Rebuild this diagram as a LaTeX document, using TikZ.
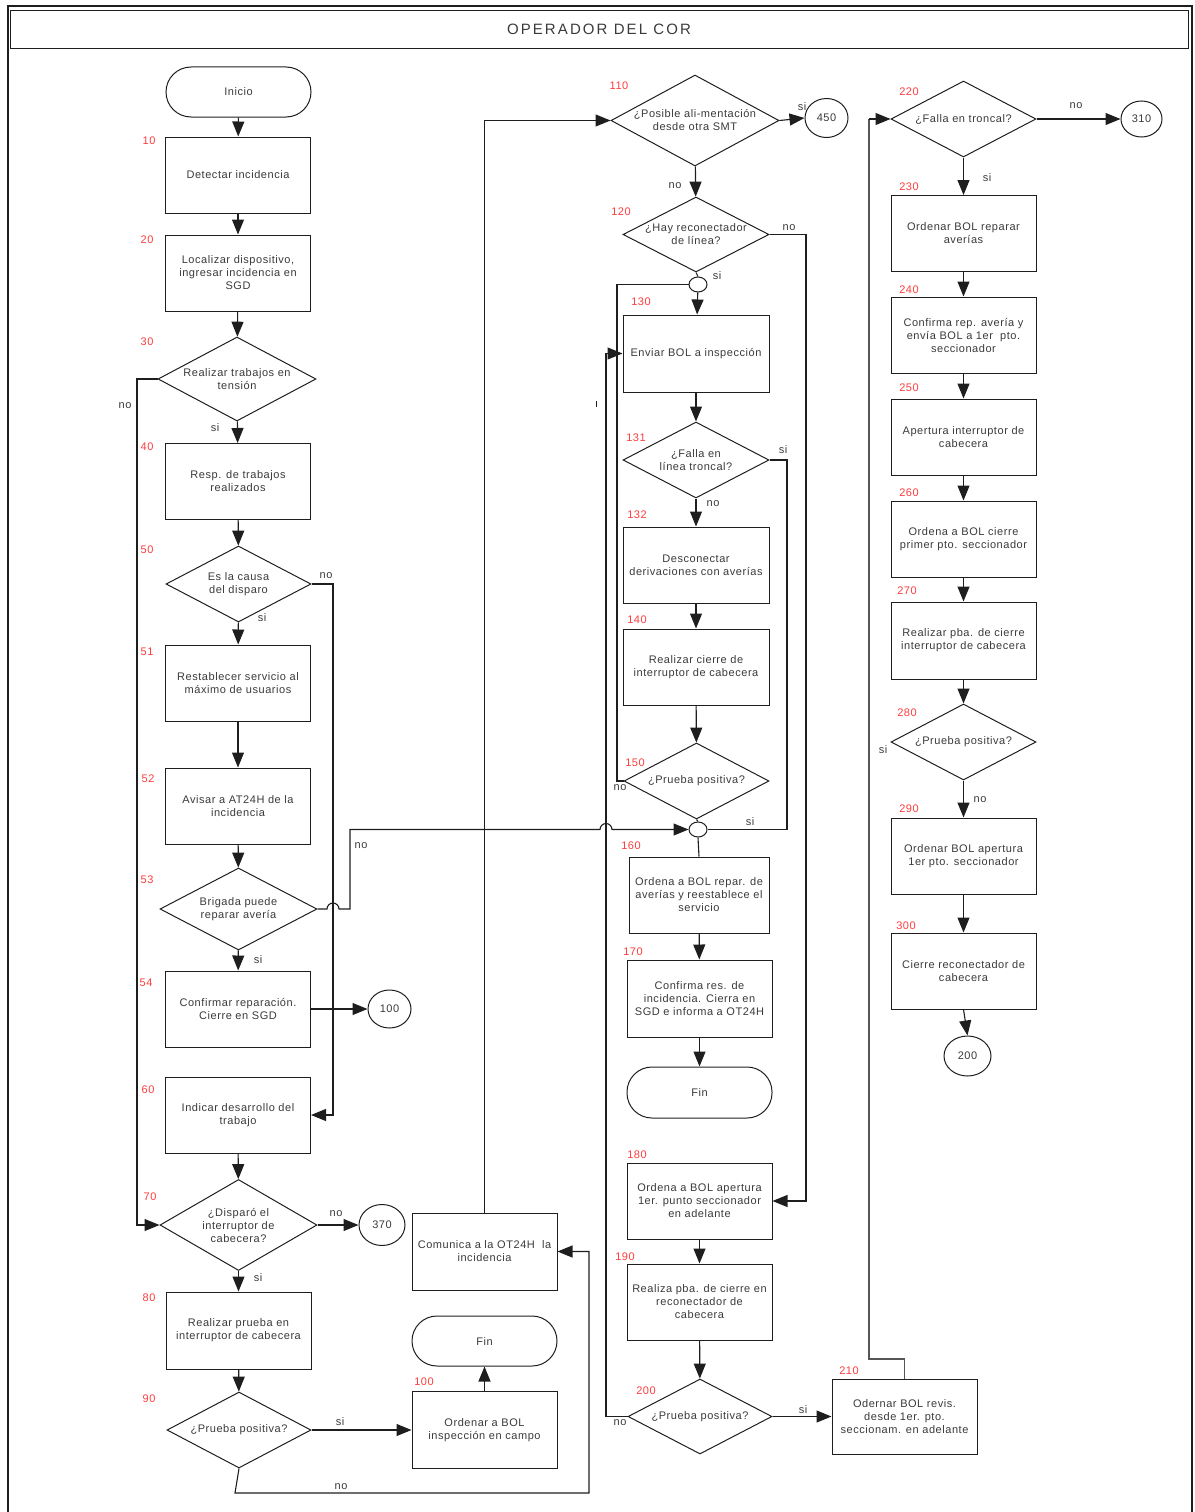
\documentclass[tikz,border=0pt]{standalone}
\usepackage{fontspec}
\setmainfont{Liberation Sans}[LetterSpace=5]
\newfontfamily\titlefont{Liberation Sans}[LetterSpace=14]
\usetikzlibrary{arrows.meta,shapes.geometric}
\definecolor{ln}{HTML}{1E1E1E}
\definecolor{tx}{HTML}{3A3A3A}
\definecolor{nm}{HTML}{FF3C3C}
\begin{document}
\begin{tikzpicture}[x=1pt,y=-1pt,
  font=\fontsize{11}{13}\selectfont,
  every node/.style={text=tx},
  box/.style={draw=ln, line width=1pt, rectangle, minimum width=145pt, minimum height=76pt, align=center, inner sep=0pt},
  term/.style={draw=ln, line width=1pt, rectangle, rounded corners=25pt, minimum width=145pt, minimum height=50pt, align=center},
  dia/.style={draw=ln, line width=1pt, diamond, inner sep=0pt},
  circ/.style={draw=ln, line width=1pt, ellipse, inner sep=0pt},
  txt/.style={align=center, inner sep=0pt},
  num/.style={text=nm, inner sep=0pt},
  lab/.style={inner sep=0pt},
  conn/.style={draw=ln, line width=1.1pt},
  arr/.style={conn, -{Triangle[length=15pt,width=12pt]}},
]
\useasboundingbox (0,0) rectangle (1194,1512);
% frame and title
\draw[ln, line width=2pt] (8,1520) -- (8,6) -- (1192,6) -- (1192,1520);
\node[draw=ln, line width=0.8pt, minimum width=1178pt, minimum height=38pt, inner sep=0pt] (title) at (599,29) {\titlefont\fontsize{15}{17}\selectfont OPERADOR DEL COR};

% ---- left column
\node[term] (inicio) at (238.5,92) {Inicio};
\node[box] (b10) at (238,175) {Detectar incidencia};
\node[box] (b20) at (238,273) {Localizar dispositivo,\\ingresar incidencia en\\SGD};
\node[dia, minimum width=158pt, minimum height=84pt] (d30) at (237,379) {};
\node[txt] (t30) at (d30) {Realizar trabajos en\\tensión};
\node[box] (b40) at (238,481.5) {Resp. de trabajos\\realizados};
\node[dia, minimum width=145pt, minimum height=76pt] (d50) at (238.5,584) {};
\node[txt] (t50) at (d50) {Es la causa\\del disparo};
\node[box] (b51) at (238,683) {Restablecer servicio al\\máximo de usuarios};
\node[box] (b52) at (238,806) {Avisar a AT24H de la\\incidencia};
\node[dia, minimum width=157pt, minimum height=82pt] (d53) at (238.5,909) {};
\node[txt] (t53) at (d53) {Brigada puede\\reparar avería};
\node[box] (b54) at (238,1009) {Confirmar reparación.\\Cierre en SGD};
\node[circ, minimum width=43pt, minimum height=38pt] (c100) at (389.5,1009) {100};
\node[box] (b60) at (238,1115) {Indicar desarrollo del\\trabajo};
\node[dia, minimum width=157pt, minimum height=91pt] (d70) at (238.5,1225) {};
\node[txt] (t70) at (d70) {¿Disparó el\\interruptor de\\cabecera?};
\node[circ, minimum width=46pt, minimum height=41pt] (c370) at (382,1225) {370};
\node[box, minimum height=77pt] (b80) at (238.5,1330.5) {Realizar prueba en\\interruptor de cabecera};
\node[dia, minimum width=144pt, minimum height=76pt] (d90) at (239,1430) {};
\node[txt] (t90) at (d90) {¿Prueba positiva?};
\node[box, minimum height=77pt] (b100) at (484.5,1430) {Ordenar a BOL\\inspección en campo};
\node[term] (fin1) at (484.5,1341) {Fin};
\node[box, minimum height=77pt] (bcom) at (484.5,1251.5) {Comunica a la OT24H\ \ la\\incidencia};

% ---- middle column
\node[dia, minimum width=168pt, minimum height=91pt] (d110) at (695,120.5) {};
\node[txt] (t110) at (d110) {¿Posible ali-mentación\\desde otra SMT};
\node[circ, minimum width=43pt, minimum height=39pt] (c450) at (826.5,118) {450};
\node[dia, minimum width=146pt, minimum height=75pt] (d120) at (696,234.5) {};
\node[txt] (t120) at (d120) {¿Hay reconectador\\de línea?};
\node[circ, minimum width=18pt, minimum height=15pt] (j1) at (698,284.5) {};
\node[box, minimum width=146pt, minimum height=77pt] (b130) at (696,353.5) {Enviar BOL a inspección};
\node[dia, minimum width=146pt, minimum height=76pt] (d131) at (696,460) {};
\node[txt] (t131) at (d131) {¿Falla en\\línea troncal?};
\node[box, minimum width=146pt] (b132) at (696,565) {Desconectar\\derivaciones con averías};
\node[box, minimum width=146pt] (b140) at (696,667) {Realizar cierre de\\interruptor de cabecera};
\node[dia, minimum width=145pt, minimum height=76pt] (d150) at (696.5,781) {};
\node[txt] (t150) at (d150) {¿Prueba positiva?};
\node[circ, minimum width=18pt, minimum height=15pt] (j2) at (698,829.5) {};
\node[box, minimum width=140pt] (b160) at (699,895) {Ordena a BOL repar. de\\averías y reestablece el\\servicio};
\node[box, minimum height=77pt] (b170) at (699.5,998.5) {Confirma res. de\\incidencia. Cierra en\\SGD e informa a OT24H};
\node[term, minimum height=51pt] (fin2) at (699.5,1092.5) {Fin};
\node[box] (b180) at (699.5,1201) {Ordena a BOL apertura\\1er. punto seccionador\\en adelante};
\node[box] (b190) at (699.5,1302) {Realiza pba. de cierre en\\reconectador de\\cabecera};
\node[dia, minimum width=144pt, minimum height=75pt] (d200) at (700,1416.5) {};
\node[txt] (t200) at (d200) {¿Prueba positiva?};
\node[box, minimum height=75pt] (b210) at (904.5,1416.5) {Odernar BOL revis.\\desde 1er. pto.\\seccionam. en adelante};

% ---- right column
\node[dia, minimum width=145pt, minimum height=76pt] (d220) at (963.5,119) {};
\node[txt] (t220) at (d220) {¿Falla en troncal?};
\node[circ, minimum width=41pt, minimum height=36pt] (c310) at (1141.5,119) {310};
\node[box] (b230) at (963.5,233.5) {Ordenar BOL reparar\\averías};
\node[box] (b240) at (963.5,335) {Confirma rep. avería y\\envía BOL a 1er\ \ pto.\\seccionador};
\node[box] (b250) at (963.5,437) {Apertura interruptor de\\cabecera};
\node[box] (b260) at (963.5,539) {Ordena a BOL cierre\\primer pto. seccionador};
\node[box, minimum height=77pt] (b270) at (963.5,640.5) {Realizar pba. de cierre\\interruptor de cabecera};
\node[dia, minimum width=145pt, minimum height=76pt] (d280) at (963.5,742) {};
\node[txt] (t280) at (d280) {¿Prueba positiva?};
\node[box] (b290) at (963.5,856) {Ordenar BOL apertura\\1er pto. seccionador};
\node[box] (b300) at (963.5,971) {Cierre reconectador de\\cabecera};
\node[circ, minimum width=47pt, minimum height=40pt] (c200) at (967.5,1056) {200};

% ---- connectors left
\draw[arr] (inicio) -- (b10);
\draw[arr] (b10) -- (b20);
\draw[arr] (b20) -- (d30);
\draw[arr] (d30) -- (b40);
\draw[arr] (b40) -- (d50);
\draw[arr] (d50) -- (b51);
\draw[arr] (b51) -- (b52);
\draw[arr] (b52) -- (d53);
\draw[arr] (d53) -- (b54);
\draw[arr] (b54) -- (c100);
\draw[arr] (b60) -- (d70);
\draw[arr] (d70) -- (c370);
\draw[arr] (d70) -- (b80);
\draw[arr] (b80) -- (d90);
\draw[arr] (d90) -- (b100);
\draw[arr] (b100) -- (fin1);
\draw[arr] (d30.west) -- (137,379) |- (d70.west);
\draw[arr] (d50.east) -- (333,584) |- (b60.east);
\draw[arr] (d53.east) -- (327,909) arc[start angle=180,end angle=360,radius=6] -- (350,909) -- (350,829.5) -- (600,829.5) arc[start angle=180,end angle=360,radius=6] -- (j2.west);
\draw[arr] (d90.south) -- (235,1493) -- (589,1493) |- (bcom.east);
\draw[arr] (bcom.north) |- (d110.west);

% ---- connectors middle
\draw[arr] (d110.east) -- (c450.west);
\draw[arr] (d110) -- (d120);
\draw[arr] (d120.east) -- (806,234.5) |- (b180.east);
\draw[conn] (d120.south) -- (j1.north);
\draw[arr] (j1) -- (b130);
\draw[arr] (b130) -- (d131);
\draw[arr] (d131) -- (b132);
\draw[arr] (b132) -- (b140);
\draw[arr] (b140) -- (d150);
\draw[conn] (d150.west) -- (617,781) -- (617,284.5) -- (j1.west);
\draw[conn] (d131.east) -- (787,460) |- (j2.east);
\draw[conn] (d150.south) -- (j2.north);
\draw[conn] (j2.south) -- (b160.north);
\draw[arr] (b160) -- (b170);
\draw[arr] (b170) -- (fin2);
\draw[arr] (b180) -- (b190);
\draw[arr] (b190) -- (d200);
\draw[arr] (d200) -- (b210);
\draw[arr] (d200.west) -- (606,1416.5) |- (b130.west);
\draw[ln, line width=1pt] (596,401) -- (596,407);

% ---- connectors right
\draw[conn, draw=ln!75, line width=1.4pt] (b210.north) -- (904.5,1359) -- (869,1359) -- (869,119);
\draw[arr] (869,119) -- (d220.west);
\draw[arr] (d220.east) -- (c310.west);
\draw[arr] (d220) -- (b230);
\draw[arr] (b230) -- (b240);
\draw[arr] (b240) -- (b250);
\draw[arr] (b250) -- (b260);
\draw[arr] (b260) -- (b270);
\draw[arr] (b270) -- (d280);
\draw[arr] (d280) -- (b290);
\draw[arr] (b290) -- (b300);
\draw[arr] (b300.south) -- (c200.north);

% ---- branch labels
\node[lab] at (215,428) {si};
\node[lab] at (125,406) {no};
\node[lab] at (326,576) {no};
\node[lab] at (262,618) {si};
\node[lab] at (361,846) {no};
\node[lab] at (258,960) {si};
\node[lab] at (336,1214) {no};
\node[lab] at (258,1278) {si};
\node[lab] at (340,1422) {si};
\node[lab] at (341,1487) {no};
\node[lab] at (802,107) {si};
\node[lab] at (675,186) {no};
\node[lab] at (789,228) {no};
\node[lab] at (717,276) {si};
\node[lab] at (783,450) {si};
\node[lab] at (713,504) {no};
\node[lab] at (620,788) {no};
\node[lab] at (750,822) {si};
\node[lab] at (803,1410) {si};
\node[lab] at (620,1423) {no};
\node[lab] at (1076,106) {no};
\node[lab] at (987,178) {si};
\node[lab] at (883,750) {si};
\node[lab] at (980,800) {no};

% ---- step numbers
\node[num] at (149,141) {10};
\node[num] at (147,240) {20};
\node[num] at (147,342) {30};
\node[num] at (147,447) {40};
\node[num] at (147,550) {50};
\node[num] at (147,652) {51};
\node[num] at (148,779) {52};
\node[num] at (147,880) {53};
\node[num] at (146,983) {54};
\node[num] at (148,1090) {60};
\node[num] at (150,1197) {70};
\node[num] at (149,1298) {80};
\node[num] at (149,1399) {90};
\node[num] at (424,1382) {100};
\node[num] at (619,86) {110};
\node[num] at (621,212) {120};
\node[num] at (641,302) {130};
\node[num] at (636,438) {131};
\node[num] at (637,515) {132};
\node[num] at (637,620) {140};
\node[num] at (635,763) {150};
\node[num] at (631,846) {160};
\node[num] at (633,952) {170};
\node[num] at (637,1155) {180};
\node[num] at (625,1257) {190};
\node[num] at (646,1391) {200};
\node[num] at (849,1371) {210};
\node[num] at (909,92) {220};
\node[num] at (909,187) {230};
\node[num] at (909,290) {240};
\node[num] at (909,388) {250};
\node[num] at (909,493) {260};
\node[num] at (907,591) {270};
\node[num] at (907,713) {280};
\node[num] at (909,809) {290};
\node[num] at (906,926) {300};
\end{tikzpicture}
\end{document}
